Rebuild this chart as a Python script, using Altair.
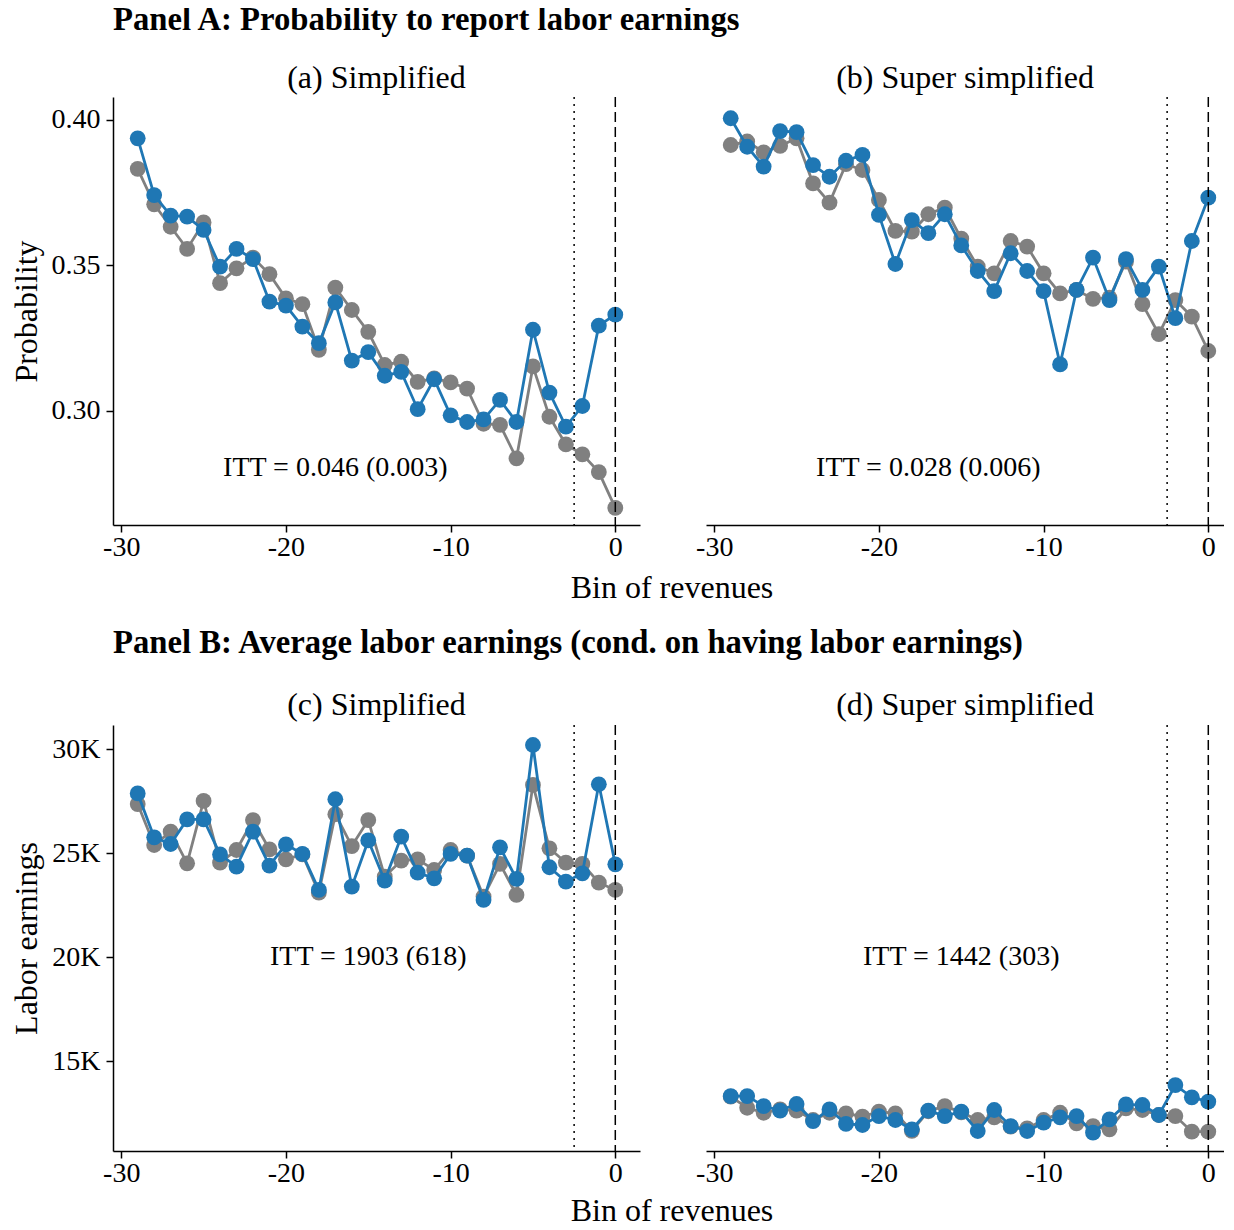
import altair as alt
import pandas as pd

# ---------------- data ----------------
bins = list(range(-29, 1))

a_treated = [0.3937, 0.3742, 0.3671, 0.3668, 0.3622, 0.3496, 0.3557, 0.3522, 0.3376, 0.3362,
             0.3290, 0.3233, 0.3373, 0.3173, 0.3202, 0.3121, 0.3134, 0.3006, 0.3109, 0.2985,
             0.2962, 0.2971, 0.3038, 0.2962, 0.3279, 0.3063, 0.2946, 0.3017, 0.3293, 0.3331]
a_control = [0.3832, 0.3710, 0.3633, 0.3557, 0.3648, 0.3439, 0.3490, 0.3527, 0.3470, 0.3387,
             0.3367, 0.3210, 0.3424, 0.3347, 0.3272, 0.3158, 0.3169, 0.3100, 0.3112, 0.3098,
             0.3077, 0.2956, 0.2952, 0.2837, 0.3153, 0.2980, 0.2885, 0.2851, 0.2790, 0.2667]

b_treated = [0.4006, 0.3908, 0.3840, 0.3962, 0.3958, 0.3845, 0.3805, 0.3860, 0.3880, 0.3674,
             0.3505, 0.3656, 0.3611, 0.3676, 0.3569, 0.3481, 0.3412, 0.3542, 0.3481, 0.3412,
             0.3160, 0.3416, 0.3527, 0.3381, 0.3522, 0.3416, 0.3496, 0.3319, 0.3584, 0.3733]
b_control = [0.3914, 0.3926, 0.3889, 0.3911, 0.3937, 0.3782, 0.3716, 0.3848, 0.3828, 0.3725,
             0.3619, 0.3616, 0.3676, 0.3699, 0.3592, 0.3496, 0.3473, 0.3584, 0.3565, 0.3473,
             0.3404, 0.3416, 0.3385, 0.3389, 0.3513, 0.3367, 0.3264, 0.3381, 0.3324, 0.3206]

c_treated = [27880, 25770, 25450, 26630, 26630, 24950, 24360, 26040, 24410, 25430,
             24970, 23240, 27600, 23400, 25620, 23690, 25800, 24070, 23800, 24970,
             24890, 22760, 25290, 23770, 30210, 24330, 23640, 24040, 28320, 24470]
c_control = [27370, 25400, 26040, 24520, 27520, 24550, 25160, 26600, 25190, 24710,
             24950, 23110, 26880, 25350, 26600, 23880, 24650, 24710, 24200, 25160,
             24890, 22920, 24490, 23000, 28290, 25240, 24550, 24490, 23590, 23240]

d_treated = [13330, 13330, 12850, 12630, 12950, 12130, 12690, 11990, 11940, 12370,
             12180, 11730, 12630, 12370, 12580, 11650, 12660, 11890, 11650, 12050,
             12310, 12370, 11570, 12210, 12930, 12900, 12420, 13860, 13270, 13060]
d_control = [13300, 12770, 12530, 12690, 12630, 12180, 12530, 12500, 12340, 12580,
             12500, 11660, 12600, 12850, 12550, 12180, 12310, 11860, 11780, 12180,
             12530, 12020, 11890, 11730, 12740, 12660, 12420, 12370, 11620, 11620]

headings = ["Panel A: Probability to report labor earnings",
            "Panel B: Average labor earnings (cond. on having labor earnings)"]
subtitles = ["(a) Simplified", "(b) Super simplified", "(c) Simplified", "(d) Super simplified"]
itt_texts = ["ITT = 0.046 (0.003)", "ITT = 0.028 (0.006)", "ITT = 1903 (618)", "ITT = 1442 (303)"]
x_title = "Bin of revenues"
x_ticks = [-30, -20, -10, 0]
prob_ticks = [0.30, 0.35, 0.40]
earn_ticks = [15000, 20000, 25000, 30000]

# ---------------- styling ----------------
FONT = "Liberation Serif"
BLUE = "#1f77b4"
GRAY = "#808080"
W_L, W_R = 527, 518
H_TOP, H_BOT = 428, 426
PX_PER_BIN = W_L / 32.0
X_DOMAIN_L = [-30.5, 1.5]
X_DOMAIN_R = [-30.5, -30.5 + W_R / PX_PER_BIN]
Y_TOP = [0.2608, 0.4079]
Y_BOT = [10690, 31170]
HEAD_SIZE = 32.7


def make_df(treated, control):
    return pd.DataFrame({
        "bin": bins + bins,
        "value": treated + control,
        "group": ["treated"] * len(bins) + ["control"] * len(bins),
    })


def text_layer(txt, x, y, size=32, weight="normal", align="center", line_height=None):
    kw = dict(font=FONT, fontSize=size, fontWeight=weight, align=align,
              baseline="alphabetic", color="black", text=txt)
    if line_height is not None:
        kw["lineHeight"] = line_height
    return alt.Chart(pd.DataFrame({"k": [0]})).mark_text(**kw).encode(
        x=alt.value(x), y=alt.value(y))


def panel(treated, control, xdomain, ydomain, width, height, subtitle, sub_y, itt, itt_x,
          itt_y, yaxis, extra_text=()):
    df = make_df(treated, control)
    xs = alt.Scale(domain=xdomain, nice=False, zero=False)
    ys = alt.Scale(domain=ydomain, nice=False, zero=False)
    xaxis = alt.Axis(values=x_ticks, labelExpr="datum.value + ''", title=None,
                     labelFlush=False, grid=False, labelPadding=1)
    x = alt.X("bin:Q", scale=xs, axis=xaxis)
    y = alt.Y("value:Q", scale=ys, axis=yaxis)
    base = alt.Chart(df)
    layers = []
    for g, c in [("control", GRAY), ("treated", BLUE)]:
        sub = base.transform_filter(alt.datum.group == g)
        layers.append(sub.mark_line(color=c, strokeWidth=2.8).encode(x=x, y=y))
        layers.append(sub.mark_circle(color=c, size=250, opacity=1).encode(x=x, y=y))
    one = pd.DataFrame({"k": [0]})
    layers.append(alt.Chart(one).mark_rule(color="black", strokeWidth=1.5,
                                           strokeDash=[2, 5]).encode(x=alt.datum(-2.5)))
    layers.append(alt.Chart(one).mark_rule(color="black", strokeWidth=1.5,
                                           strokeDash=[10, 5]).encode(x=alt.datum(0)))
    layers.append(alt.Chart(one).mark_text(
        font=FONT, fontSize=28, color="black", align="center", baseline="middle", text=itt
    ).encode(x=alt.datum(itt_x), y=alt.datum(itt_y)))
    layers.append(text_layer(subtitle, width / 2, sub_y))
    layers.extend(extra_text)
    return alt.layer(*layers).properties(width=width, height=height)


def y_axis(title, ticks, fmt=None, expr=None):
    kw = dict(values=ticks, title=title, titlePadding=8, grid=False, labelPadding=6)
    if fmt:
        kw["format"] = fmt
    if expr:
        kw["labelExpr"] = expr
    return alt.Axis(**kw)


pa = panel(a_treated, a_control, X_DOMAIN_L, Y_TOP, W_L, H_TOP, subtitles[0], -9,
           itt_texts[0], -17, 0.2804,
           y_axis("Probability", prob_ticks, fmt=".2f"),
           extra_text=[
               text_layer(["", headings[0]], 0, -63, size=HEAD_SIZE, weight="bold",
                          align="left", line_height=-4),
               text_layer(x_title, 559, 501),
           ])
pb = panel(b_treated, b_control, X_DOMAIN_R, Y_TOP, W_R, H_TOP, subtitles[1], -9,
           itt_texts[1], -17, 0.2804, None)
pc = panel(c_treated, c_control, X_DOMAIN_L, Y_BOT, W_L, H_BOT, subtitles[2], -10,
           itt_texts[2], -15, 20000,
           y_axis("Labor earnings", earn_ticks, expr="datum.value / 1000 + 'K'"),
           extra_text=[
               text_layer(headings[1], 0, -72, size=HEAD_SIZE, weight="bold", align="left"),
               text_layer([x_title, ""], 559, 496, line_height=-5),
           ])
pd_ = panel(d_treated, d_control, X_DOMAIN_R, Y_BOT, W_R, H_BOT, subtitles[3], -10,
            itt_texts[3], -15, 20000, None)

chart = alt.concat(
    pa, pb, pc, pd_, columns=2, spacing={"row": 200, "column": 66}, bounds="flush"
).configure_view(stroke=None).configure_axis(
    grid=False,
    domainColor="black", domainWidth=1.5, tickColor="black", tickWidth=1.5, tickSize=7,
    labelFont=FONT, labelFontSize=28, labelColor="black",
    titleFont=FONT, titleFontSize=32, titleFontWeight="normal", titleColor="black",
).properties(
    padding={"left": 2, "top": 0, "right": 0, "bottom": 0},
    background="white",
)

chart.save("out.html", embed_options={"renderer": "svg", "actions": False})
